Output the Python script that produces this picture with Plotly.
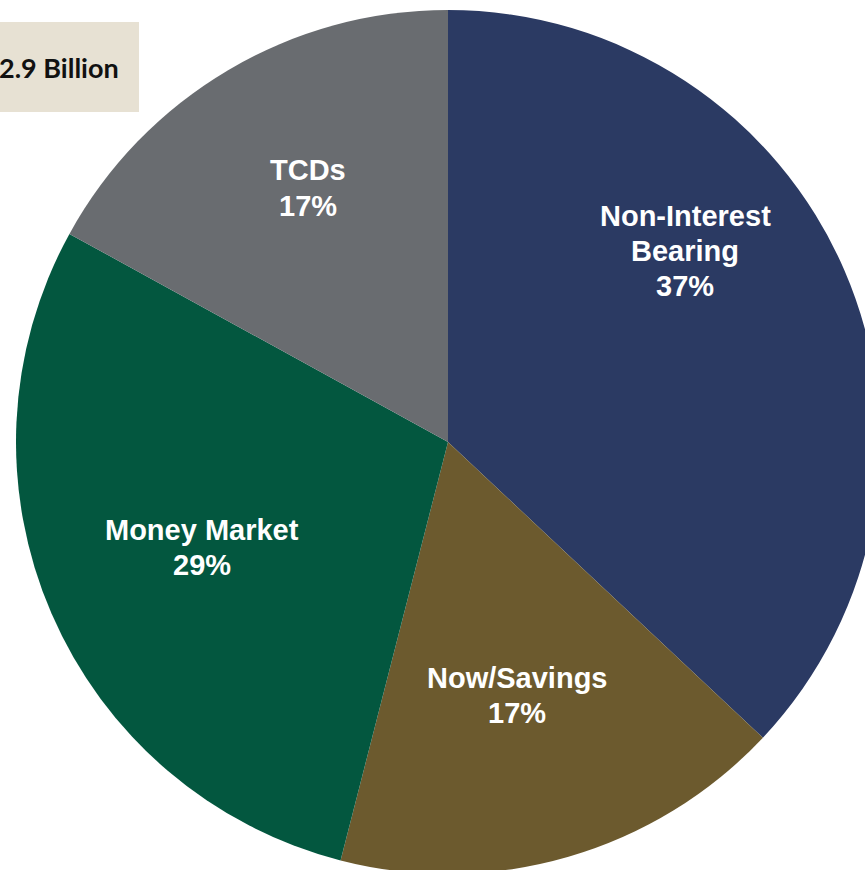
import plotly.graph_objects as go

# Deposit mix
categories = ["Non-Interest Bearing", "Now/Savings", "Money Market", "TCDs"]
shares = [37, 17, 29, 17]
label_lines = [["Non-Interest", "Bearing"], ["Now/Savings"], ["Money Market"], ["TCDs"]]
total_label = "2.9 Billion"

slice_colors = ["#2B3A63", "#6C5A2E", "#03573F", "#696C70"]

W, H = 880, 884
cx, cy, r = 448, 442, 432

fig = go.Figure(
    go.Pie(
        labels=categories,
        values=shares,
        sort=False,
        direction="clockwise",
        rotation=0,
        marker=dict(colors=slice_colors, line=dict(width=0)),
        textinfo="none",
        hoverinfo="label+percent",
        domain=dict(x=[(cx - r) / W, 1], y=[0, 1]),
        showlegend=False,
    )
)

# label block centres, in pixels from the top-left corner
label_pos = [(685, 251), (517, 695), (202, 547), (308, 188)]
line_gap = 35

annotations = []
for lines, val, (px, py) in zip(label_lines, shares, label_pos):
    rows = lines + [f"{val}%"]
    top = py - line_gap * (len(rows) - 1) / 2
    for i, row in enumerate(rows):
        annotations.append(
            dict(
                x=px / W, y=1 - (top + i * line_gap) / H, xref="paper", yref="paper",
                text=f"<b>{row}</b>",
                showarrow=False, xanchor="center", yanchor="middle",
                font=dict(family="Liberation Sans, Arial, sans-serif", size=29, color="white"),
            )
        )

annotations.append(
    dict(
        x=-3 / W, y=1 - 68 / H, xref="paper", yref="paper",
        text=f"<b>{total_label}</b>",
        showarrow=False, xanchor="left", yanchor="middle",
        font=dict(family="Lato, sans-serif", size=27, color="#111111"),
    )
)

fig.update_layout(
    width=W, height=H,
    margin=dict(l=0, r=0, t=0, b=0),
    paper_bgcolor="white",
    plot_bgcolor="white",
    annotations=annotations,
    shapes=[
        dict(
            type="rect", xref="paper", yref="paper", layer="below",
            x0=-0.05, x1=139 / W, y0=1 - 112 / H, y1=1 - 22 / H,
            fillcolor="#E7E1D3", line=dict(width=0),
        )
    ],
)

fig.write_html("out.html", config={"displayModeBar": False})
